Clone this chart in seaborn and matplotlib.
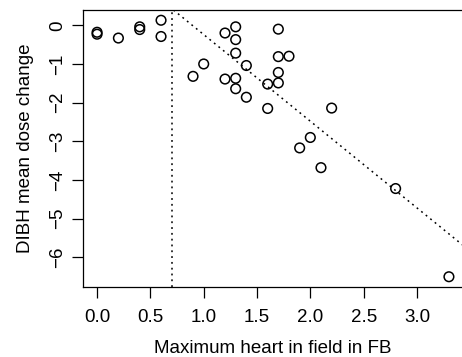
import numpy as np
import pandas as pd
import seaborn as sns
import matplotlib.pyplot as plt

# data
heart_fb = [0.0, 0.0, 0.2, 0.4, 0.4, 0.6, 0.6, 0.9, 1.0, 1.2, 1.2,
            1.3, 1.3, 1.3, 1.3, 1.3, 1.4, 1.4, 1.6, 1.6,
            1.7, 1.7, 1.7, 1.7, 1.8, 1.9, 2.0, 2.1, 2.2, 2.8, 3.3]
dose_change = [-0.18, -0.23, -0.33, -0.04, -0.11, 0.13, -0.29, -1.32, -1.0, -0.2, -1.39,
               -0.04, -0.37, -0.72, -1.37, -1.64, -1.04, -1.86, -1.52, -2.15,
               -0.10, -0.81, -1.22, -1.49, -0.80, -3.17, -2.9, -3.68, -2.14, -4.22, -6.5]
cutoff = 0.7
fit_intercept = 2.0
fit_slope = -2.24
x_ticks = [0.0, 0.5, 1.0, 1.5, 2.0, 2.5, 3.0]
y_ticks = [0, -1, -2, -3, -4, -5, -6]

df = pd.DataFrame({'heart': heart_fb, 'dose': dose_change})

sns.set_style("ticks")
plt.rcParams['font.family'] = ['Liberation Sans', 'DejaVu Sans']

fig = plt.figure(figsize=(4.62, 3.57), dpi=100)
ax = fig.add_axes([83 / 462, 70 / 357, 380 / 462, 277 / 357])

sns.scatterplot(data=df, x='heart', y='dose', ax=ax, marker='o', s=48,
                facecolor='none', edgecolor='black', linewidth=1.1)

# R style 4% padding
xr = max(heart_fb) - min(heart_fb)
yr = max(dose_change) - min(dose_change)
ax.set_xlim(min(heart_fb) - 0.04 * xr, max(heart_fb) + 0.04 * xr)
ax.set_ylim(min(dose_change) - 0.04 * yr, max(dose_change) + 0.04 * yr)

dots = (0, (1.2, 2.6))
ax.axvline(cutoff, color='black', linestyle=dots, linewidth=1.1)
ax.axline((0, fit_intercept), slope=fit_slope, color='black', linestyle=dots, linewidth=1.1)

ax.set_xticks(x_ticks)
ax.set_xticklabels([f"{v:.1f}" for v in x_ticks])
ax.set_yticks(y_ticks)
ax.set_yticklabels([str(v).replace('-', '\u2212') for v in y_ticks], rotation=90, va='center')

ax.tick_params(length=8, width=0.9, labelsize=13.5, color='black', labelcolor='black')
ax.tick_params(axis='x', pad=7.5)
ax.tick_params(axis='y', pad=4.3)
for s in ax.spines.values():
    s.set_visible(True)
    s.set_linewidth(0.9)
    s.set_color('black')

ax.set_xlabel('Maximum heart in field in FB', fontsize=13.5, labelpad=10.5, color='black')
ax.set_ylabel('DIBH mean dose change', fontsize=13.5, labelpad=10.8, color='black')

fig.savefig('out.png', dpi=100)
